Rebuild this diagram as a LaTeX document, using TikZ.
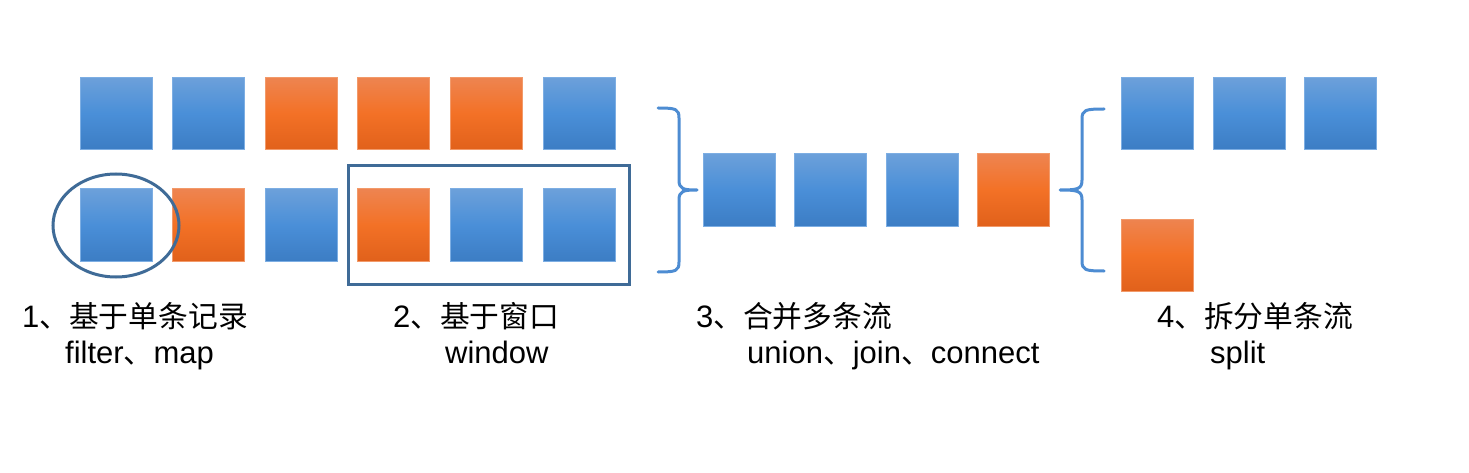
\documentclass[tikz,border=0pt]{standalone}
\usepackage{fontspec}
\setmainfont{Liberation Sans}
\newfontfamily\cjk[Scale=0.96]{Noto Sans CJK SC}
\usetikzlibrary{shapes.geometric,shadings}
\definecolor{btop}{HTML}{6CA0DA}
\definecolor{bmid}{HTML}{4A8FD8}
\definecolor{bbot}{HTML}{3C7DC4}
\definecolor{bedge}{HTML}{7DAEE3}
\definecolor{otop}{HTML}{EE8450}
\definecolor{omid}{HTML}{F37126}
\definecolor{obot}{HTML}{E1611B}
\definecolor{oedge}{HTML}{F29A6A}
\definecolor{frame}{HTML}{3F6B97}
\definecolor{brace}{HTML}{4D8CD2}
\tikzset{
  sq/.style={rectangle, minimum size=72pt, inner sep=0pt, line width=1pt},
  bsq/.style={sq, draw=bedge, top color=btop, bottom color=bbot, middle color=bmid},
  osq/.style={sq, draw=oedge, top color=otop, bottom color=obot, middle color=omid},
  hl/.style={draw=frame, line width=3pt, fill=none, inner sep=0pt},
  br/.style={draw=brace, line width=3pt, line cap=round, line join=round},
  lbl/.style={anchor=base west, inner sep=0pt, font=\fontsize{31}{37}\selectfont, text=black}
}
\begin{document}
\begin{tikzpicture}[x=1pt,y=-1pt]
\useasboundingbox (0,0) rectangle (1469,473);
% row 1
\node[bsq] (a1) at (116,113.5) {};
\node[bsq] (a2) at (208,113.5) {};
\node[osq] (a3) at (301,113.5) {};
\node[osq] (a4) at (393,113.5) {};
\node[osq] (a5) at (486,113.5) {};
\node[bsq] (a6) at (579,113.5) {};
% row 2
\node[bsq] (b1) at (116,225) {};
\node[osq] (b2) at (208,225) {};
\node[bsq] (b3) at (301,225) {};
\node[osq] (b4) at (393,225) {};
\node[bsq] (b5) at (486,225) {};
\node[bsq] (b6) at (579,225) {};
% highlights
\node[hl, ellipse, minimum width=126pt, minimum height=103pt] (ell) at (116,225.5) {};
\node[hl, rectangle, minimum width=281pt, minimum height=118pt] (win) at (488.5,225) {};
% merged stream
\node[bsq] (c1) at (739,190) {};
\node[bsq] (c2) at (830,190) {};
\node[bsq] (c3) at (922,190) {};
\node[osq] (c4) at (1013,190) {};
% split streams
\node[bsq] (d1) at (1157,113.5) {};
\node[bsq] (d2) at (1249,113.5) {};
\node[bsq] (d3) at (1340,113.5) {};
\node[osq] (e1) at (1157,255) {};
% braces
\coordinate (t1) at (697,190);
\coordinate (t2) at (1060,190);
\draw[br] (658,108) .. controls (676,108) and (679,109) .. (679,118)
  -- (679,180) .. controls (679,189) and (683,190) .. (t1)
  .. controls (683,190) and (679,191) .. (679,200)
  -- (679,262) .. controls (679,271) and (676,272) .. (658,272);
\draw[br] (1104,109) .. controls (1085,109) and (1082,110) .. (1082,119)
  -- (1082,180) .. controls (1082,189) and (1078,190) .. (t2)
  .. controls (1078,190) and (1082,191) .. (1082,200)
  -- (1082,261) .. controls (1082,270) and (1085,271) .. (1104,271);
% labels
\node[lbl] (l1a) at (22,327) {1{\cjk 、基于单条记录}};
\node[lbl] (l1b) at (65,363) {filter{\cjk 、}map};
\node[lbl] (l2a) at (393,327) {2{\cjk 、基于窗口}};
\node[lbl] (l2b) at (445,363) {window};
\node[lbl] (l3a) at (696,327) {3{\cjk 、合并多条流}};
\node[lbl] (l3b) at (747,363) {union{\cjk 、}join{\cjk 、}connect};
\node[lbl] (l4a) at (1157,327) {4{\cjk 、拆分单条流}};
\node[lbl] (l4b) at (1210,363) {split};
\end{tikzpicture}
\end{document}
